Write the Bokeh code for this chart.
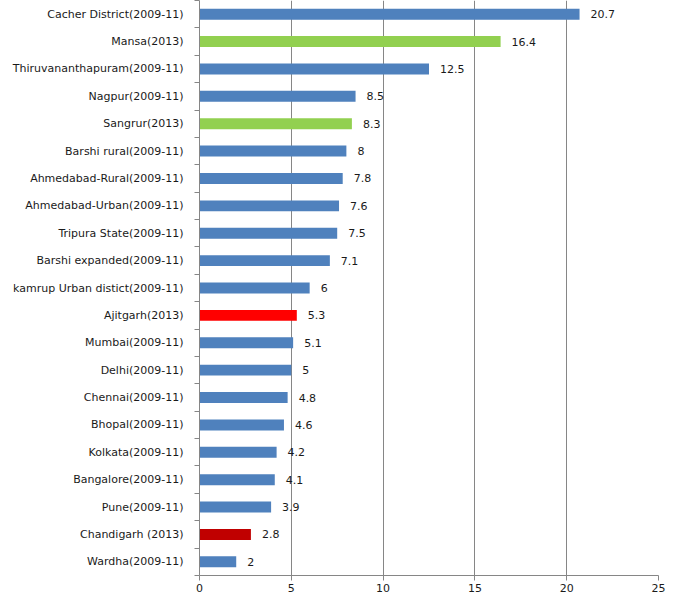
from bokeh.plotting import figure
from bokeh.models import ColumnDataSource, Range1d, FixedTicker
from bokeh.embed import file_html
from bokeh.resources import INLINE

# Data (top to bottom as in the reference)
categories = [
    "Cacher District(2009-11)", "Mansa(2013)", "Thiruvananthapuram(2009-11)",
    "Nagpur(2009-11)", "Sangrur(2013)", "Barshi rural(2009-11)",
    "Ahmedabad-Rural(2009-11)", "Ahmedabad-Urban(2009-11)", "Tripura State(2009-11)",
    "Barshi expanded(2009-11)", "kamrup Urban distict(2009-11)", "Ajitgarh(2013)",
    "Mumbai(2009-11)", "Delhi(2009-11)", "Chennai(2009-11)", "Bhopal(2009-11)",
    "Kolkata(2009-11)", "Bangalore(2009-11)", "Pune(2009-11)",
    "Chandigarh (2013)", "Wardha(2009-11)",
]
values = [20.7, 16.4, 12.5, 8.5, 8.3, 8, 7.8, 7.6, 7.5, 7.1, 6, 5.3,
          5.1, 5, 4.8, 4.6, 4.2, 4.1, 3.9, 2.8, 2]
colors = ["#4F81BD", "#92D050", "#4F81BD", "#4F81BD", "#92D050", "#4F81BD",
          "#4F81BD", "#4F81BD", "#4F81BD", "#4F81BD", "#4F81BD", "#FF0000",
          "#4F81BD", "#4F81BD", "#4F81BD", "#4F81BD", "#4F81BD", "#4F81BD",
          "#4F81BD", "#C00000", "#4F81BD"]
x_ticks = [0, 5, 10, 15, 20, 25]

n = len(categories)
ypos = [n - 1 - i for i in range(n)]
labels = [f"{v:g}" for v in values]

src = ColumnDataSource(dict(y=ypos, v=values, c=colors, lab=labels))

FONT = "DejaVu Sans"
TXT = "#1a1a1a"
AX = "#868686"

p = figure(width=668, height=595, output_backend="svg", toolbar_location=None,
           x_range=Range1d(0, 25), y_range=Range1d(-0.5, n - 0.5),
           min_border_left=199, min_border_right=10, min_border_top=0,
           min_border_bottom=20)
p.outline_line_color = None
p.background_fill_color = "white"

p.hbar(y="y", right="v", left=0, height=0.4, fill_color="c", line_color=None, source=src)
p.text(x="v", y="y", text="lab", source=src, x_offset=11, text_baseline="middle",
       text_align="left", text_font_size="11px", text_color=TXT,
       text_font={"value": FONT})

# x axis
p.xaxis.ticker = FixedTicker(ticks=x_ticks)
p.xaxis.axis_line_color = AX
p.xaxis.major_tick_line_color = AX
p.xaxis.major_tick_out = 5
p.xaxis.major_tick_in = 0
p.xaxis.minor_tick_line_color = None
p.xaxis.major_label_text_font = FONT
p.xaxis.major_label_text_font_size = "11px"
p.xaxis.major_label_text_color = TXT
p.xaxis.major_label_standoff = 3

# y axis: labels at centres, ticks between categories
p.yaxis.ticker = FixedTicker(ticks=ypos, minor_ticks=[k - 0.5 for k in range(n + 1)])
p.yaxis.major_label_overrides = {y: c for y, c in zip(ypos, categories)}
p.yaxis.axis_line_color = AX
p.yaxis.major_tick_line_color = None
p.yaxis.major_tick_out = 5
p.yaxis.minor_tick_line_color = AX
p.yaxis.minor_tick_out = 5
p.yaxis.minor_tick_in = 0
p.yaxis.major_label_text_font = FONT
p.yaxis.major_label_text_font_size = "11px"
p.yaxis.major_label_text_color = TXT
p.yaxis.major_label_standoff = 11

p.xgrid.ticker = FixedTicker(ticks=x_ticks)
p.xgrid.grid_line_color = AX
p.ygrid.grid_line_color = None

open("out.html", "w").write(file_html(p, INLINE))
